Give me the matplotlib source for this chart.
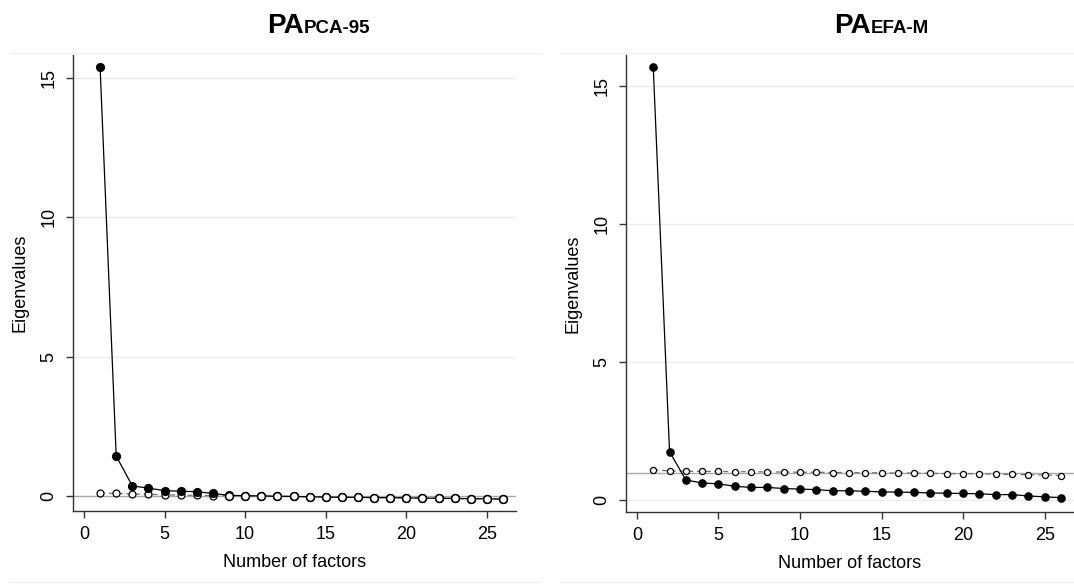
import matplotlib
matplotlib.use("Agg")
import matplotlib.pyplot as plt
import numpy as np

plt.rcParams['font.family'] = ['Liberation Sans', 'DejaVu Sans']

factors = list(range(1, 27))

# Left panel: PA PCA-95
pca_real = [15.40, 1.44, 0.37, 0.29, 0.20, 0.18, 0.16, 0.10, 0.03, 0.02,
            0.01, 0.00, -0.01, -0.02, -0.03, -0.04, -0.04, -0.05, -0.05, -0.06,
            -0.07, -0.07, -0.08, -0.09, -0.09, -0.11]
pca_rand = [0.11, 0.10, 0.08, 0.07, 0.05, 0.04, 0.03, 0.02, 0.02, 0.01,
            0.00, -0.00, -0.01, -0.02, -0.03, -0.04, -0.04, -0.05, -0.05, -0.06,
            -0.07, -0.07, -0.08, -0.09, -0.09, -0.10]
pca_ref = 0.0

# Right panel: PA EFA-M
efa_real = [15.71, 1.76, 0.74, 0.63, 0.60, 0.51, 0.47, 0.47, 0.43, 0.41,
            0.39, 0.35, 0.35, 0.33, 0.31, 0.30, 0.29, 0.27, 0.26, 0.25,
            0.24, 0.21, 0.21, 0.16, 0.13, 0.10]
efa_rand = [1.10, 1.07, 1.06, 1.05, 1.05, 1.04, 1.04, 1.03, 1.03, 1.02,
            1.02, 1.01, 1.01, 1.00, 1.00, 0.99, 0.99, 0.98, 0.97, 0.97,
            0.96, 0.95, 0.94, 0.93, 0.92, 0.90]
efa_ref = 1.0

xticks = [0, 5, 10, 15, 20, 25]
yticks = [0, 5, 10, 15]

fig = plt.figure(figsize=(10.74, 5.86), dpi=100)

def panel(rect, real, rand, ref, xlim, ylim, grid0, ms_f, ms_h, overlap):
    ax = fig.add_axes(rect)
    ax.set_xlim(*xlim)
    ax.set_ylim(*ylim)
    for yv in yticks:
        if yv == 0 and not grid0:
            continue
        ax.axhline(yv, color='#ececec', lw=1.0, zorder=0)
    ax.axhline(ref, color='#a8a8a8', lw=1.0, zorder=1)
    ax.plot(factors, rand, color='#707070', lw=0.9, ls=(0, (4, 3)), zorder=2,
            marker='o', ms=ms_h, mfc='white', mec='black', mew=0.9)
    ax.plot(factors, real, color='black', lw=0.9, zorder=3,
            marker='o', ms=ms_f, mfc='black', mec='black')
    if overlap:
        # overlap region: random markers drawn on top like the original
        ax.plot(factors[8:], rand[8:], ls='none', zorder=4,
                marker='o', ms=ms_f, mfc='white', mec='black', mew=1.1)
    for s in ['top', 'right']:
        ax.spines[s].set_visible(False)
    for s in ['left', 'bottom']:
        ax.spines[s].set_color('#333333')
        ax.spines[s].set_linewidth(1.0)
    ax.set_xticks(xticks)
    ax.set_yticks(yticks)
    ax.tick_params(axis='both', length=5, width=1.0, color='#333333',
                   labelsize=13, pad=6)
    for lab in ax.get_yticklabels():
        lab.set_rotation(90)
        lab.set_va('center')
    ax.set_xlabel('Number of factors', fontsize=13, labelpad=8)
    ax.set_ylabel('Eigenvalues', fontsize=13, labelpad=9)
    return ax

ax1 = panel([73/1074, 1-511/586, 443/1074, (511-55)/586],
            pca_real, pca_rand, pca_ref, (-0.68, 26.8), (-0.53, 15.82), False,
            5.6, 5.0, True)
ax2 = panel([626/1074, 1-512/586, 448/1074, (512-55)/586],
            efa_real, efa_rand, efa_ref, (-0.67, 26.8), (-0.42, 16.13), True,
            5.2, 4.4, False)

# faint frame lines of the graph regions
for x0, x1 in [(10, 540), (560, 1074)]:
    fig.add_artist(plt.Line2D([x0/1074, x1/1074], [1-53/586, 1-53/586],
                              color='#f0f0f0', lw=1.0))
    fig.add_artist(plt.Line2D([x0/1074, x1/1074], [1-582/586, 1-582/586],
                              color='#f0f0f0', lw=1.0))

# titles: "PA" + smaller bold subscript-like suffix
fig.canvas.draw()
renderer = fig.canvas.get_renderer()
for xstart, sub in [(267, 'PCA-95'), (834, 'EFA-M')]:
    t = fig.text(xstart/1074, 1-33/586, 'PA', fontsize=20, fontweight='bold',
                 ha='left', va='baseline')
    bb = t.get_window_extent(renderer=renderer)
    fig.text(bb.x1/fig.bbox.width, 1-33/586, sub, fontsize=13.5,
             fontweight='bold', ha='left', va='baseline')

fig.savefig('out.png', dpi=100)
